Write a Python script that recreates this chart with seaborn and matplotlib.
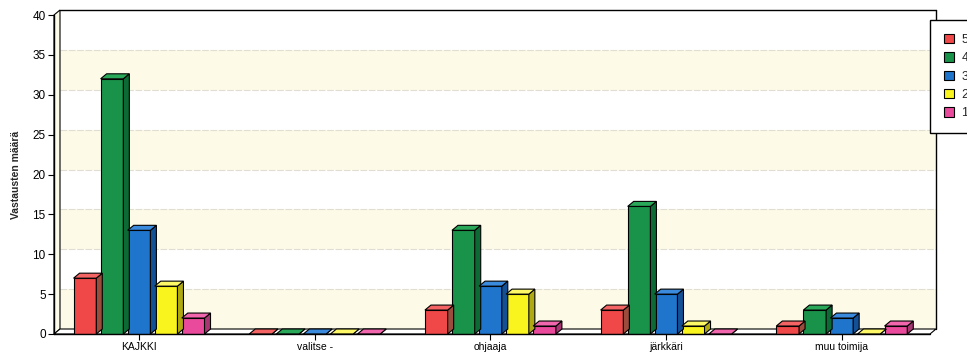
import matplotlib
matplotlib.use("Agg")
import matplotlib.pyplot as plt
from matplotlib.patches import Polygon, Rectangle
import pandas as pd
import seaborn as sns

categories = ["KAJKKI", "valitse -", "ohjaaja", "järkkäri", "muu toimija"]
ratings = ["5", "4", "3", "2", "1"]
r5 = [7, 0, 3, 3, 1]
r4 = [32, 0, 13, 16, 3]
r3 = [13, 0, 6, 5, 2]
r2 = [6, 0, 5, 1, 0]
r1 = [2, 0, 1, 0, 1]
y_ticks = [0, 5, 10, 15, 20, 25, 30, 35, 40]

front = ["#f04848", "#1a934a", "#1f74cc", "#faf41e", "#ea4a9c"]
side = ["#9c4c3c", "#0e6a34", "#145096", "#b0aa12", "#a83672"]
top = ["#f56464", "#2aa85a", "#3a8ade", "#fcf866", "#f266ae"]

rows = []
for rating, vals in zip(ratings, [r5, r4, r3, r2, r1]):
    for cat, v in zip(categories, vals):
        rows.append({"kategoria": cat, "arvo": rating, "määrä": v})
df = pd.DataFrame(rows)

sns.set_theme(style="white")
plt.rcParams["font.family"] = ["Liberation Sans", "DejaVu Sans"]

W, H = 967, 360
fig = plt.figure(figsize=(W / 100, H / 100), dpi=100)
ax_l, ax_r, ax_b, ax_t = 54, 930, 334, 15
ax = fig.add_axes([ax_l / W, (H - ax_b) / H, (ax_r - ax_l) / W, (ax_b - ax_t) / H])

sns.barplot(data=df, x="kategoria", y="määrä", hue="arvo", hue_order=ratings,
            order=categories, palette=dict(zip(ratings, front)), saturation=1,
            width=0.77, gap=0.16, edgecolor="black", linewidth=0.8,
            errorbar=None, ax=ax, zorder=3)

xl, xr = -0.484, 4.502
ymax = 40
ax.set_xlim(xl, xr)
ax.set_ylim(0, ymax)

# depth of the pseudo-3D box, in pixels converted to data units
depth_px = (6, 5)
dx = depth_px[0] * (xr - xl) / (ax_r - ax_l)
dy = depth_px[1] * ymax / (ax_b - ax_t)

# back wall with alternating bands and grid lines
ax.add_patch(Rectangle((xl + dx, dy), xr - xl, ymax, facecolor="white",
                       edgecolor="none", zorder=0.1, clip_on=False))
for k in range(0, ymax, 10):
    ax.add_patch(Rectangle((xl + dx, k + dy), xr - xl, 5, facecolor="#fdfbe8",
                           edgecolor="none", zorder=0.2, clip_on=False))
for v in y_ticks[1:-1]:
    ax.plot([xl + dx, xr + dx], [v + dy, v + dy], color="#e0ddd2", lw=0.8,
            ls=(0, (6, 1.5)), zorder=0.3, clip_on=False)
# left side wall and floor
ax.add_patch(Polygon([(xl, 0), (xl + dx, dy), (xl + dx, ymax + dy), (xl, ymax)],
                     closed=True, facecolor="#fdfbea", edgecolor="black",
                     lw=0.8, zorder=0.4, clip_on=False))
ax.add_patch(Polygon([(xl, 0), (xr, 0), (xr + dx, dy), (xl + dx, dy)],
                     closed=True, facecolor="white", edgecolor="black",
                     lw=0.8, zorder=0.5, clip_on=False))
# outer frame
frame_kw = dict(color="black", lw=1.0, zorder=4, clip_on=False)
ax.plot([xl, xl], [0, ymax], **frame_kw)
ax.plot([xl + dx, xr + dx], [ymax + dy, ymax + dy], **frame_kw)
ax.plot([xr + dx, xr + dx], [dy, ymax + dy], **frame_kw)
ax.plot([xl, xr], [0, 0], **frame_kw)

# depth faces for every bar, built from the drawn patches
for i, cont in enumerate(ax.containers):
    for bar in cont:
        x0 = bar.get_x()
        x1 = x0 + bar.get_width()
        h = bar.get_height()
        ax.add_patch(Polygon([(x1, 0), (x1 + dx, dy), (x1 + dx, h + dy), (x1, h)],
                             closed=True, facecolor=side[i], edgecolor="black",
                             lw=0.8, zorder=3, clip_on=False))
        ax.add_patch(Polygon([(x0, h), (x0 + dx, h + dy), (x1 + dx, h + dy), (x1, h)],
                             closed=True, facecolor=top[i], edgecolor="black",
                             lw=0.8, zorder=3, clip_on=False))

for s in ax.spines.values():
    s.set_visible(False)
ax.set_yticks(y_ticks)
ax.tick_params(axis="both", direction="out", length=4, width=0.8, colors="black",
               labelsize=8.5, pad=2, bottom=True, left=True)
ax.tick_params(axis="x", labelsize=7.5)
ax.set_xlabel("")
ax.set_ylabel("Vastausten määrä", fontsize=7.5, fontweight="bold", labelpad=8)

sns.move_legend(ax, loc="upper left", bbox_to_anchor=(930 / W, 1 - 20 / H),
                bbox_transform=fig.transFigure, title=None, frameon=True,
                fancybox=False, fontsize=9, handlelength=0.8, handleheight=0.8,
                handletextpad=0.6, labelspacing=0.5, borderpad=1.1,
                borderaxespad=0)
leg = ax.get_legend()
leg.get_frame().set_edgecolor("black")
leg.get_frame().set_linewidth(1.0)
leg.get_frame().set_alpha(1)

fig.savefig("out.png", dpi=100)
